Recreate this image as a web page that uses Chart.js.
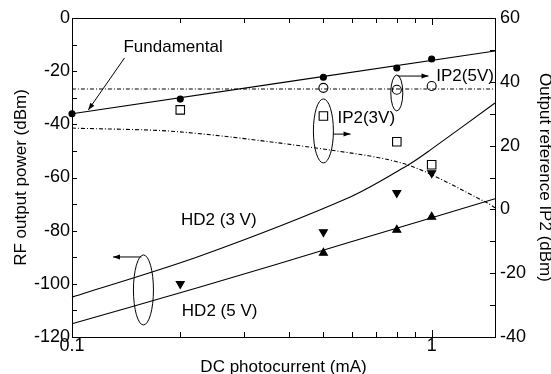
<!DOCTYPE html>
<html><head><meta charset="utf-8">
<script src="https://cdn.jsdelivr.net/npm/chart.js@4.4.1/dist/chart.umd.min.js"></script>
<style>html,body{margin:0;padding:0;background:#fff}</style>
</head><body>
<canvas id="c" width="551" height="374"></canvas>
<script>
const FONT = '"Liberation Sans", Arial, Helvetica, sans-serif';

// ---- data (x = DC photocurrent, mA) ----
const xTickValues = [0.1,0.2,0.3,0.4,0.5,0.6,0.7,0.8,0.9,1.0];
const xTickLabels = ['0.1','','','','','','','','','1'];
const yLeftMinor = [-110,-100,-90,-80,-70,-60,-50,-40,-30,-20,-10];
const yRightMinor = [-30,-20,-10,0,10,20,30,40,50];

// Fundamental (left axis, dBm)
const fundX = [0.1,0.2,0.5,0.8,1.0];
const fundY = [-36,-30.5,-22.3,-18.8,-15.4];
const fundFitX = [0.1,1.5];
const fundFitY = [-36,-12.4];

// IP2 (5 V) (right axis, dBm)
const ip2v5X = [0.5,0.8,1.0];
const ip2v5Y = [38.1,37.5,38.7];
const ip2v5FitX = [0.1,1.5];
const ip2v5FitY = [37.75,37.75];

// IP2 (3 V) (right axis, dBm)
const ip2v3X = [0.2,0.5,0.8,1.0];
const ip2v3Y = [31.2,29.3,21.2,14.0];
const ip2v3FitX = [0.1,0.2,0.523,0.86,1.43,1.5];
const ip2v3FitY = [25.5,24.3,18.6,13.9,2.0,0.5];

// HD2 (3 V) (left axis, dBm)
const hd2v3X = [0.2,0.5,0.8,1.0];
const hd2v3Y = [-100,-80.5,-65.8,-58.3];
const hd2v3FitX = [0.1,0.227,0.594,0.86,0.99,1.5];
const hd2v3FitY = [-105,-89.5,-67.3,-55.3,-49.7,-32];

// HD2 (5 V) (left axis, dBm)
const hd2v5X = [0.5,0.8,1.0];
const hd2v5Y = [-88.4,-79.7,-74.8];
const hd2v5FitX = [0.1,0.227,0.594,1.5];
const hd2v5FitY = [-115,-101.2,-84.3,-68];

function pts(xs, ys){ return xs.map((x,i)=>({x:x, y:ys[i]})); }

const lineDs = (xs, ys, axis, dash) => ({
  data: pts(xs, ys), yAxisID: axis, borderColor:'#000', borderWidth:1.1,
  borderDash: dash || [], pointRadius:0, fill:false,
  tension:0.3, clip:false
});
const ptDs = (xs, ys, axis, style, r, filled, rot) => ({
  data: pts(xs, ys), yAxisID: axis, showLine:false,
  pointStyle: style, pointRadius: r, pointRotation: rot || 0,
  pointBackgroundColor: filled ? '#000' : '#fff', pointBorderColor:'#000',
  pointBorderWidth: 1.1, clip:false
});

const annot = {
  id:'annot',
  afterDraw(chart){
    const {ctx, chartArea:a, scales} = chart;
    const X = v => scales.x.getPixelForValue(v);
    const Y = (v, ax) => scales[ax || 'y'].getPixelForValue(v);
    ctx.save();
    ctx.strokeStyle = '#000'; ctx.fillStyle = '#000'; ctx.lineWidth = 1;
    const seg = (x1,y1,x2,y2) => { ctx.beginPath(); ctx.moveTo(x1,y1); ctx.lineTo(x2,y2); ctx.stroke(); };
    seg(a.left, a.top+0.5, a.right, a.top+0.5);
    xTickValues.forEach((v,i) => {
      const px = Math.round(X(v)) + 0.5;
      const len = xTickLabels[i] ? 7 : 5;
      seg(px, a.bottom, px, a.bottom - len);
      seg(px, a.top, px, a.top + len);
    });
    yLeftMinor.forEach(v => { const py = Math.round(Y(v))+0.5; seg(a.left, py, a.left+5, py); });
    yRightMinor.forEach(v => { const py = Math.round(Y(v,'y2'))+0.5; seg(a.right-5, py, a.right, py); });

    const arrow = (x1,y1,x2,y2) => {
      seg(x1,y1,x2,y2);
      const ang = Math.atan2(y2-y1, x2-x1), L = 7, W = 2.5;
      ctx.beginPath();
      ctx.moveTo(x2,y2);
      ctx.lineTo(x2 - L*Math.cos(ang) + W*Math.sin(ang), y2 - L*Math.sin(ang) - W*Math.cos(ang));
      ctx.lineTo(x2 - L*Math.cos(ang) - W*Math.sin(ang), y2 - L*Math.sin(ang) + W*Math.cos(ang));
      ctx.closePath(); ctx.fill();
    };
    const ell = (cx,cy,rx,ry) => { ctx.beginPath(); ctx.ellipse(cx,cy,rx,ry,0,0,Math.PI*2); ctx.stroke(); };

    ctx.font = '17px ' + FONT;
    ctx.textBaseline = 'middle'; ctx.textAlign = 'left';
    ctx.fillText('Fundamental', X(0.139), Y(-11));
    arrow(X(0.14), Y(-15), X(0.111), Y(-34.6));
    ell(X(0.8), Y(36.5,'y2'), 6, 18);
    arrow(X(0.805), Y(41.8,'y2'), X(0.98), Y(41.8,'y2'));
    ctx.fillText('IP2(5V)', X(1.03), Y(41.8,'y2'));
    ell(X(0.5), Y(24.6,'y2'), 10, 32);
    arrow(X(0.533), Y(23.6,'y2'), X(0.595), Y(23.6,'y2'));
    ctx.fillText('IP2(3V)', X(0.547), Y(28.7,'y2'));
    ell(X(0.158), Y(-102.3), 10, 35);
    arrow(X(0.156), Y(-89.9), X(0.13), Y(-89.9));
    ctx.fillText('HD2 (3 V)', X(0.201), Y(-76));
    ctx.fillText('HD2 (5 V)', X(0.202), Y(-110.2));
    ctx.restore();
  }
};

new Chart(document.getElementById('c'), {
  type:'line',
  data:{ datasets:[
    lineDs(fundFitX, fundFitY, 'y'),
    lineDs(ip2v5FitX, ip2v5FitY, 'y2', [4,2,1,2]),
    lineDs(ip2v3FitX, ip2v3FitY, 'y2', [4,2,1,2]),
    lineDs(hd2v3FitX, hd2v3FitY, 'y'),
    lineDs(hd2v5FitX, hd2v5FitY, 'y'),
    ptDs(fundX, fundY, 'y', 'circle', 3, true),
    ptDs(ip2v5X, ip2v5Y, 'y2', 'circle', 4.5, false),
    ptDs(ip2v3X, ip2v3Y, 'y2', 'rect', 6, false),
    ptDs(hd2v3X, hd2v3Y, 'y', 'triangle', 4.6, true, 180),
    ptDs(hd2v5X, hd2v5Y, 'y', 'triangle', 4.6, true, 0)
  ]},
  options:{
    responsive:false, animation:false, devicePixelRatio:1,
    plugins:{ legend:{display:false}, tooltip:{enabled:false} },
    layout:{ padding:{top:18, left:0, right:0, bottom:0} },
    scales:{
      x:{
        type:'logarithmic', min:0.1, max:1.5, position:'bottom',
        grid:{display:false, drawTicks:false},
        border:{display:true, color:'#000', width:1},
        afterBuildTicks: s => { s.ticks = xTickValues.map(v => ({value:v})); },
        afterFit: s => { s.height = 37; },
        ticks:{ autoSkip:false, maxRotation:0, padding:-2, color:'#000',
          font:{family:FONT, size:18},
          callback:(v) => { const i = xTickValues.findIndex(t => Math.abs(t-v) < 1e-9); return i >= 0 ? xTickLabels[i] : ''; } },
        title:{ display:true, text:'DC photocurrent (mA)', color:'#000',
          font:{family:FONT, size:17}, padding:{top:0, bottom:-4} }
      },
      y:{
        position:'left', min:-120, max:0,
        grid:{display:false, drawTicks:false},
        border:{display:true, color:'#000', width:1},
        afterFit: s => { s.width = 72; },
        ticks:{ stepSize:20, padding:2, color:'#000', font:{family:FONT, size:18} },
        title:{ display:true, text:'RF output power (dBm)', color:'#000',
          font:{family:FONT, size:17}, padding:{top:11, bottom:0} }
      },
      y2:{
        position:'right', min:-40, max:60,
        grid:{display:false, drawTicks:false},
        border:{display:true, color:'#000', width:1},
        afterFit: s => { s.width = 56; },
        ticks:{ stepSize:20, padding:5, color:'#000', font:{family:FONT, size:18} },
        title:{ display:true, text:'Output reference IP2 (dBm)', color:'#000',
          font:{family:FONT, size:17}, padding:{top:-4, bottom:0} }
      }
    }
  },
  plugins:[annot]
});
</script>
</body></html>
